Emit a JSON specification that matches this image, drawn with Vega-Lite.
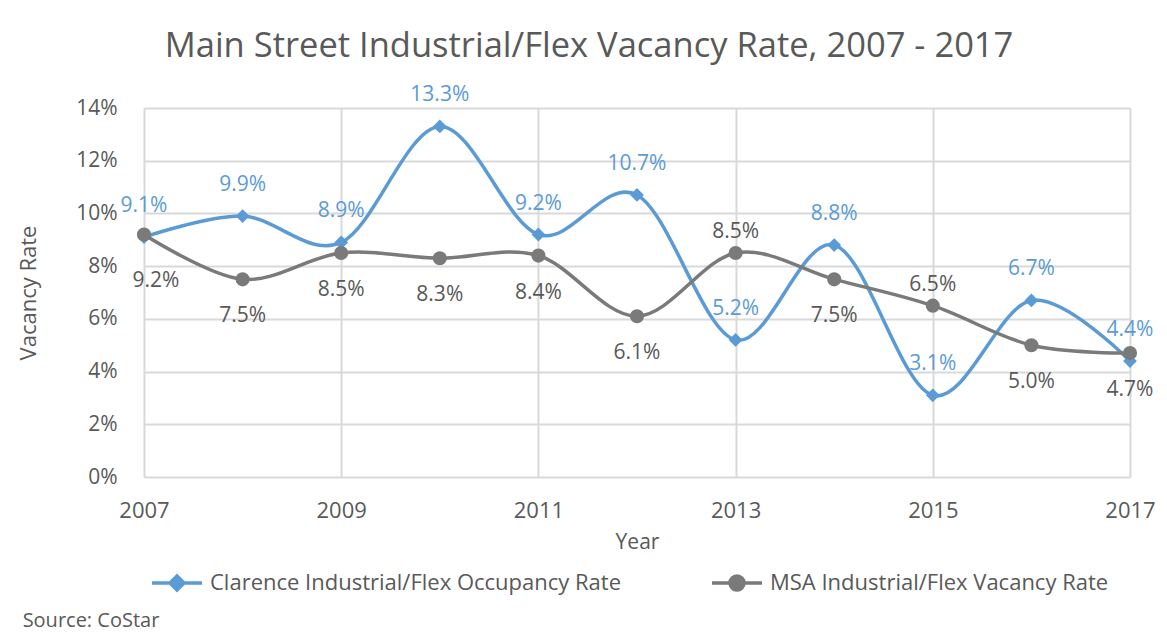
{
  "$schema": "https://vega.github.io/schema/vega-lite/v6.json",
  "background": "white",
  "padding": {"left": 17, "top": 28, "right": 10, "bottom": 0},
  "config": {
    "font": "Open Sans",
    "view": {"stroke": null},
    "axis": {"labelFont": "Open Sans", "titleFont": "Open Sans", "labelColor": "#595959", "titleColor": "#595959", "titleFontWeight": "normal", "gridColor": "#D9D9D9", "gridWidth": 2, "domain": false, "ticks": false},
    "legend": {"labelFont": "Open Sans", "labelColor": "#595959"},
    "title": {"font": "Open Sans", "color": "#595959", "fontWeight": "normal"}
  },
  "title": {"text": "Source: CoStar", "orient": "bottom", "anchor": "start", "frame": "bounds", "fontSize": 20, "offset": 14, "dx": 5},
  "vconcat": [
    {
      "width": 986,
      "height": 369,
      "title": {"text": "Main Street Industrial/Flex Vacancy Rate, 2007 - 2017", "fontSize": 34.5, "anchor": "middle", "dx": -48, "offset": 20},
      "data": {"values": [
        {"year": 2007, "series": "Clarence Industrial/Flex Occupancy Rate", "rate": 0.091},
        {"year": 2008, "series": "Clarence Industrial/Flex Occupancy Rate", "rate": 0.099},
        {"year": 2009, "series": "Clarence Industrial/Flex Occupancy Rate", "rate": 0.089},
        {"year": 2010, "series": "Clarence Industrial/Flex Occupancy Rate", "rate": 0.133},
        {"year": 2011, "series": "Clarence Industrial/Flex Occupancy Rate", "rate": 0.092},
        {"year": 2012, "series": "Clarence Industrial/Flex Occupancy Rate", "rate": 0.107},
        {"year": 2013, "series": "Clarence Industrial/Flex Occupancy Rate", "rate": 0.052},
        {"year": 2014, "series": "Clarence Industrial/Flex Occupancy Rate", "rate": 0.088},
        {"year": 2015, "series": "Clarence Industrial/Flex Occupancy Rate", "rate": 0.031},
        {"year": 2016, "series": "Clarence Industrial/Flex Occupancy Rate", "rate": 0.067},
        {"year": 2017, "series": "Clarence Industrial/Flex Occupancy Rate", "rate": 0.044},
        {"year": 2007, "series": "MSA Industrial/Flex Vacancy Rate", "rate": 0.092},
        {"year": 2008, "series": "MSA Industrial/Flex Vacancy Rate", "rate": 0.075},
        {"year": 2009, "series": "MSA Industrial/Flex Vacancy Rate", "rate": 0.085},
        {"year": 2010, "series": "MSA Industrial/Flex Vacancy Rate", "rate": 0.083},
        {"year": 2011, "series": "MSA Industrial/Flex Vacancy Rate", "rate": 0.084},
        {"year": 2012, "series": "MSA Industrial/Flex Vacancy Rate", "rate": 0.061},
        {"year": 2013, "series": "MSA Industrial/Flex Vacancy Rate", "rate": 0.085},
        {"year": 2014, "series": "MSA Industrial/Flex Vacancy Rate", "rate": 0.075},
        {"year": 2015, "series": "MSA Industrial/Flex Vacancy Rate", "rate": 0.065},
        {"year": 2016, "series": "MSA Industrial/Flex Vacancy Rate", "rate": 0.050},
        {"year": 2017, "series": "MSA Industrial/Flex Vacancy Rate", "rate": 0.047}
      ]},
      "encoding": {
        "x": {"field": "year", "type": "quantitative", "scale": {"domain": [2007, 2017], "nice": false, "zero": false},
              "axis": {"values": [2007, 2009, 2011, 2013, 2015, 2017], "format": "d", "title": "Year", "labelFontSize": 22, "titleFontSize": 21, "labelPadding": 23, "titlePadding": 10, "labelFlush": false, "labelOverlap": false}},
        "y": {"field": "rate", "type": "quantitative", "scale": {"domain": [0, 0.14], "nice": false},
              "axis": {"values": [0, 0.02, 0.04, 0.06, 0.08, 0.1, 0.12, 0.14], "format": ".0%", "title": "Vacancy Rate", "labelFontSize": 21, "titleFontSize": 22, "labelPadding": 27, "titlePadding": 35}}
      },
      "layer": [
        {
          "transform": [{"filter": "datum.series === 'Clarence Industrial/Flex Occupancy Rate'"}],
          "mark": {"type": "line", "interpolate": "cardinal", "strokeWidth": 3.5},
          "encoding": {"color": {"field": "series", "type": "nominal",
            "scale": {"domain": ["Clarence Industrial/Flex Occupancy Rate", "MSA Industrial/Flex Vacancy Rate"], "range": ["#5B9BD5", "#7A7A7A"]},
            "legend": {"title": null, "orient": "bottom", "direction": "horizontal", "labelFontSize": 22, "labelLimit": 0, "symbolSize": 2500, "symbolStrokeWidth": 3.5, "columnPadding": 82, "symbolOffset": 6, "offset": 4, "labelOffset": 6,
              "symbolType": "M-1,0H1M0,-0.28L0.28,0L0,0.28L-0.28,0Z",
              "encoding": {"symbols": {
                "shape": {"value": {"expr": "datum.value === 'MSA Industrial/Flex Vacancy Rate' ? 'M-1,0H1M0.28,0A0.28,0.28,0,1,1,-0.28,0A0.28,0.28,0,1,1,0.28,0Z' : 'M-1,0H1M0,-0.28L0.28,0L0,0.28L-0.28,0Z'"}},
                "fill": {"value": {"expr": "datum.value === 'MSA Industrial/Flex Vacancy Rate' ? '#7A7A7A' : '#5B9BD5'"}}
              }}}}}
        },
        {
          "transform": [{"filter": "datum.series === 'Clarence Industrial/Flex Occupancy Rate'"}],
          "mark": {"type": "point", "shape": "diamond", "filled": true, "size": 190, "opacity": 1},
          "encoding": {"color": {"field": "series", "type": "nominal", "legend": null}}
        },
        {
          "transform": [{"filter": "datum.series === 'MSA Industrial/Flex Vacancy Rate'"}],
          "mark": {"type": "line", "interpolate": "cardinal", "strokeWidth": 3.5},
          "encoding": {"color": {"field": "series", "type": "nominal"}}
        },
        {
          "transform": [{"filter": "datum.series === 'MSA Industrial/Flex Vacancy Rate'"}],
          "mark": {"type": "point", "shape": "circle", "filled": true, "size": 200, "opacity": 1},
          "encoding": {"color": {"field": "series", "type": "nominal", "legend": null}}
        },
        {
          "transform": [{"filter": "datum.series === 'Clarence Industrial/Flex Occupancy Rate'"}],
          "mark": {"type": "text", "fontSize": 21, "baseline": "alphabetic", "dy": -25, "color": "#5B9BD5"},
          "encoding": {"text": {"field": "rate", "type": "quantitative", "format": ".1%"}}
        },
        {
          "transform": [{"filter": "datum.series === 'MSA Industrial/Flex Vacancy Rate' && (datum.year === 2013 || datum.year === 2015)"}],
          "mark": {"type": "text", "fontSize": 21, "baseline": "alphabetic", "dy": -15, "color": "#595959"},
          "encoding": {"text": {"field": "rate", "type": "quantitative", "format": ".1%"}}
        },
        {
          "transform": [{"filter": "datum.series === 'MSA Industrial/Flex Vacancy Rate' && datum.year !== 2007 && datum.year !== 2013 && datum.year !== 2015"}],
          "mark": {"type": "text", "fontSize": 21, "baseline": "alphabetic", "dy": 43, "color": "#595959"},
          "encoding": {"text": {"field": "rate", "type": "quantitative", "format": ".1%"}}
        },
        {
          "transform": [{"filter": "datum.series === 'MSA Industrial/Flex Vacancy Rate' && datum.year === 2007"}],
          "mark": {"type": "text", "fontSize": 21, "baseline": "alphabetic", "dy": 52, "dx": 12, "color": "#595959"},
          "encoding": {"text": {"field": "rate", "type": "quantitative", "format": ".1%"}}
        }
      ]
    }
  ]
}
